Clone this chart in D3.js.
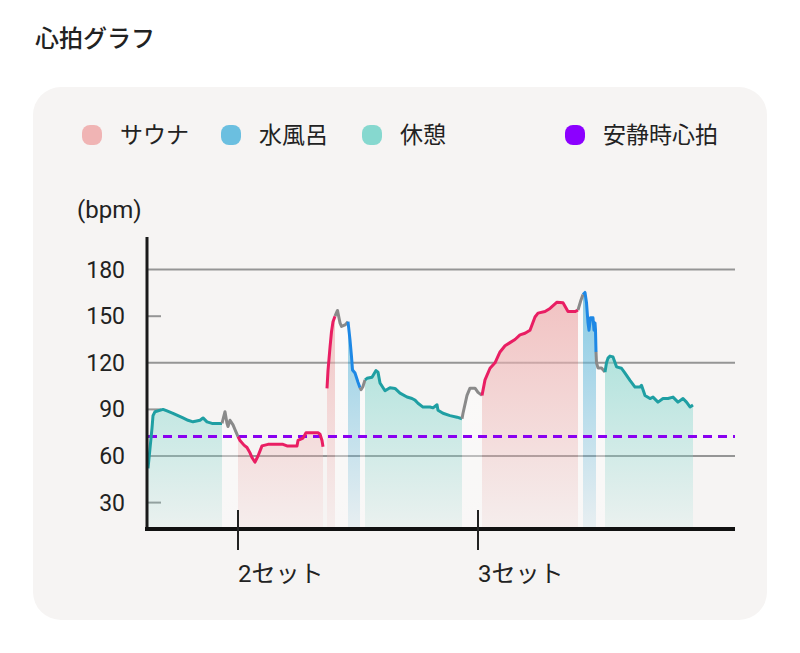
<!DOCTYPE html>
<html>
<head>
<meta charset="utf-8">
<script src="https://cdn.jsdelivr.net/npm/d3@7"></script>
<style>
  html, body { margin: 0; padding: 0; background: #fff; }
  svg text { font-family: Roboto, "Noto Sans CJK JP", sans-serif; fill: #222; }
</style>
</head>
<body>
<div id="chart"></div>
<script>
"use strict";

// heart rate, [minutes, bpm], one array per phase
var rest1 = [[0,52],[0.8,78],[1.0,86],[1.4,88.5],[3.0,90],[3.8,89],[5.0,87.5],[6.0,86],[7.0,84.5],[8.0,83],[9.0,82],[10.4,83],[11.0,84.5],[11.8,82],[12.8,81],[14.8,81]];
var move1 = [[14.8,81],[15.4,88.5],[15.8,81],[16.0,79],[16.4,83],[17.0,80],[17.4,77],[18.0,72.5]];
var sauna1 = [[18.0,72.5],[18.4,70],[19.2,67],[19.8,65.5],[20.4,62],[20.8,59],[21.4,56],[22.0,60],[22.8,66.5],[24.0,67.5],[27.0,67.5],[27.8,66.5],[29.8,66.5],[30.0,70],[31.0,71.5],[31.6,75],[34.0,75],[34.4,74],[34.8,70],[35.0,66]];
var sauna2 = [[35.8,103.5],[36.0,115],[36.4,130],[36.7,140],[37.0,146.5],[37.4,150]];
var move2 = [[37.4,150],[37.9,153.7],[38.4,145.7],[38.7,143.4],[39.4,144.4],[40.0,146.5]];
var water1 = [[40.0,146.5],[40.4,134.8],[40.7,124],[40.9,115.4],[41.4,113.4],[42.0,107.5],[42.4,104]];
var move3 = [[42.4,104],[42.6,102.7],[43.0,104.8],[43.4,109]];
var rest2 = [[43.4,109],[43.8,110],[44.8,110.7],[45.6,115],[46.0,114],[46.4,107],[47.4,102],[48.4,104],[49.4,103.5],[50.4,100.5],[51.8,98],[52.8,97],[53.4,96],[54.0,94],[55.0,91.5],[56.4,91.5],[57.0,91],[57.8,93],[58.0,89.5],[59.0,87.5],[60.4,86],[61.8,85],[62.8,84]];
var move4 = [[62.8,84],[63.0,87.5],[63.8,99],[64.4,103.7],[65.4,103.7],[66.0,101],[66.8,99]];
var sauna3 = [[66.8,99],[67.4,109],[68.4,116.5],[69.4,120],[70.4,127],[71.4,131],[72.4,133],[73.4,135],[74.4,138],[75.4,139],[76.4,141],[77.4,149.5],[78.0,152],[79.4,153],[80.4,155],[81.8,159],[83.0,158.6],[84.0,153],[85.4,153],[86.0,154]];
var move5 = [[86.0,154],[86.6,160.5],[87.0,164]];
var water2 = [[87.0,164],[87.4,165.3],[87.7,158.7],[88.0,145.7],[88.2,141],[88.5,149],[89.0,149],[89.2,141],[89.4,145.7],[89.5,141],[89.6,127]];
var move6 = [[89.6,127],[89.7,120],[90.0,116.7],[90.7,116.7],[91.0,115.5],[91.4,114]];
var rest3 = [[91.4,114],[91.7,120],[92.0,123],[92.4,124.3],[93.0,123.8],[93.7,117.4],[94.7,116.5],[95.4,113.3],[96.4,108.7],[97.4,104.4],[98.4,104.4],[98.7,105.5],[99.4,99],[100.4,97],[101.0,97.9],[102.0,94.7],[103.0,97],[104.0,97],[105.0,97.9],[106.0,94.7],[107.0,97],[107.7,94.7],[108.4,91.6],[109.0,92.9]];

var phases = [
    { kind: "rest", data: rest1 }, { kind: "move", data: move1 }, { kind: "sauna", data: sauna1 },
    { kind: "sauna", data: sauna2 }, { kind: "move", data: move2 }, { kind: "water", data: water1 },
    { kind: "move", data: move3 }, { kind: "rest", data: rest2 }, { kind: "move", data: move4 },
    { kind: "sauna", data: sauna3 }, { kind: "move", data: move5 }, { kind: "water", data: water2 },
    { kind: "move", data: move6 }, { kind: "rest", data: rest3 }
];

var restingHr = 72.5;
var yTicks = [30, 60, 90, 120, 150, 180];
var yGridTicks = [60, 120, 180];
var setTicks = [18, 66];
var setLabels = ["2セット", "3セット"];
var legendKinds = ["sauna", "water", "rest", "resting"];
var legendLabels = ["サウナ", "水風呂", "休憩", "安静時心拍"];

var fillColor = { sauna: "#f0b4b4", water: "#6bbfe0", rest: "#86d8cf", move: "#ffffff", resting: "#8c00ff" };
var lineColor = { sauna: "#e91e63", water: "#1e88e5", rest: "#1f9fa3", move: "#8a8a8a" };

var width = 800, height = 653;
var plot = { left: 148, right: 735, top: 237, bottom: 529 };

var x = d3.scaleLinear().domain([0, 117.4]).range([plot.left, plot.right]);
var y = d3.scaleLinear().domain([13, 201]).range([plot.bottom, plot.top]);

var svg = d3.select("#chart").append("svg")
    .attr("width", width).attr("height", height);

svg.append("rect").attr("width", width).attr("height", height).attr("fill", "#fff");

svg.append("text").attr("x", 35).attr("y", 47)
    .style("font-size", "24px").style("font-weight", 500)
    .text("心拍グラフ");

svg.append("rect")
    .attr("x", 33).attr("y", 87).attr("width", 734).attr("height", 533)
    .attr("rx", 28).attr("fill", "#f6f4f3");

// legend
var legendX = [92, 231, 372, 575];
var legend = svg.append("g").selectAll("g").data(legendKinds).enter().append("g")
    .attr("transform", function (d, i) { return "translate(" + legendX[i] + ",135)"; });
legend.append("rect")
    .attr("x", -10).attr("y", -10).attr("width", 20).attr("height", 20).attr("rx", 8)
    .attr("fill", function (d) { return fillColor[d]; });
legend.append("text")
    .attr("x", 28).attr("dy", "0.35em")
    .style("font-size", "23px")
    .text(function (d, i) { return legendLabels[i]; });

// gradients for the areas
var defs = svg.append("defs");
["sauna", "water", "rest", "move"].forEach(function (k) {
    var g = defs.append("linearGradient").attr("id", "grad-" + k)
        .attr("gradientUnits", "userSpaceOnUse")
        .attr("x1", 0).attr("x2", 0).attr("y1", plot.top).attr("y2", plot.bottom);
    g.append("stop").attr("offset", 0).attr("stop-color", fillColor[k]).attr("stop-opacity", k == "move" ? 0.6 : 0.95);
    g.append("stop").attr("offset", 1).attr("stop-color", fillColor[k]).attr("stop-opacity", k == "move" ? 0.3 : 0.1);
});

// grid + y labels
svg.append("g").selectAll("line").data(yTicks).enter().append("line")
    .attr("x1", plot.left)
    .attr("x2", function (d) { return yGridTicks.indexOf(d) >= 0 ? plot.right : plot.left + 13; })
    .attr("y1", function (d) { return y(d); }).attr("y2", function (d) { return y(d); })
    .attr("stroke", "#959595").attr("stroke-width", 2);

svg.append("g").selectAll("text").data(yTicks).enter().append("text")
    .attr("x", 125).attr("y", function (d) { return y(d); }).attr("dy", "0.35em")
    .attr("text-anchor", "end").style("font-size", "23px")
    .text(function (d) { return d; });

svg.append("text").attr("x", 77).attr("y", 218).style("font-size", "24px").text("(bpm)");

// areas + lines
var area = d3.area()
    .x(function (d) { return x(d[0]); })
    .y0(plot.bottom)
    .y1(function (d) { return y(d[1]); });
var line = d3.line()
    .x(function (d) { return x(d[0]); })
    .y(function (d) { return y(d[1]); });

svg.append("g").selectAll("path").data(phases).enter().append("path")
    .attr("d", function (d) { return area(d.data); })
    .attr("fill", function (d) { return "url(#grad-" + d.kind + ")"; });

// resting heart rate
svg.append("line")
    .attr("x1", plot.left).attr("x2", plot.right)
    .attr("y1", y(restingHr)).attr("y2", y(restingHr))
    .attr("stroke", "#8a00f0").attr("stroke-width", 3)
    .attr("stroke-dasharray", "9,6");

svg.append("g").selectAll("path").data(phases).enter().append("path")
    .attr("d", function (d) { return line(d.data); })
    .attr("fill", "none")
    .attr("stroke", function (d) { return lineColor[d.kind]; })
    .attr("stroke-width", 3)
    .attr("stroke-linejoin", "round");

// axes
svg.append("line")
    .attr("x1", plot.left - 1).attr("x2", plot.left - 1)
    .attr("y1", plot.top).attr("y2", plot.bottom + 2)
    .attr("stroke", "#1a1a1a").attr("stroke-width", 3);
svg.append("line")
    .attr("x1", plot.left - 3).attr("x2", plot.right)
    .attr("y1", plot.bottom).attr("y2", plot.bottom)
    .attr("stroke", "#111").attr("stroke-width", 4);

svg.append("g").selectAll("line").data(setTicks).enter().append("line")
    .attr("x1", function (d) { return x(d); }).attr("x2", function (d) { return x(d); })
    .attr("y1", plot.bottom - 19).attr("y2", plot.bottom + 21)
    .attr("stroke", "#222").attr("stroke-width", 2);

svg.append("g").selectAll("text").data(setTicks).enter().append("text")
    .attr("x", function (d) { return x(d); }).attr("y", 582)
    .style("font-size", "24px")
    .text(function (d, i) { return setLabels[i]; });
</script>
</body>
</html>
